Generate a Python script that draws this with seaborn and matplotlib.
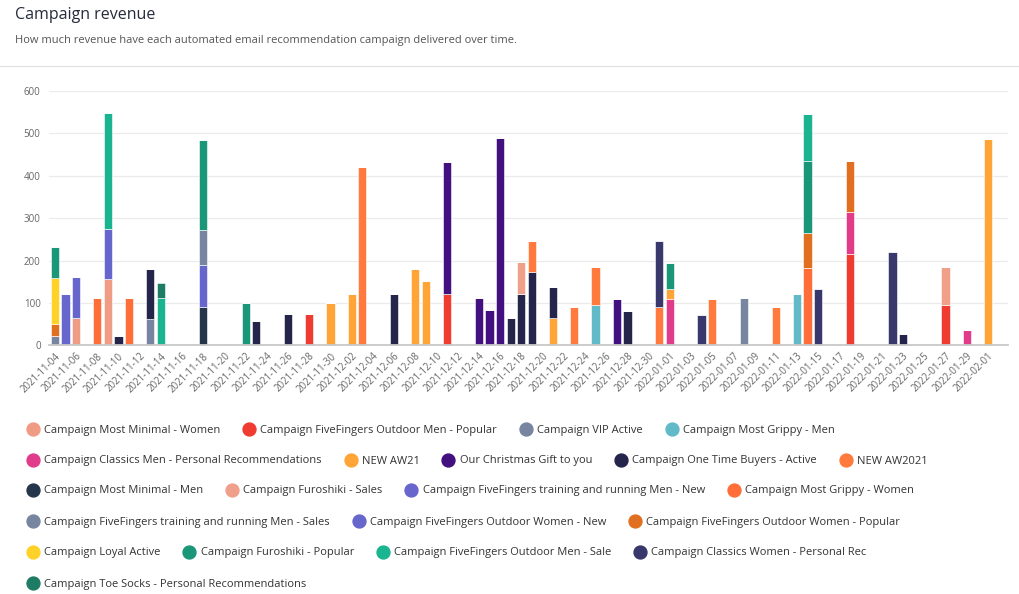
import pandas as pd
import numpy as np
import matplotlib
matplotlib.use("Agg")
import matplotlib.pyplot as plt
from matplotlib.lines import Line2D
import seaborn as sns

# DATES ON THE X AXIS (2022-01-31 is not in the data)
dates = [d.strftime("%Y-%m-%d") for d in pd.date_range("2021-11-04", "2022-02-01") if d.strftime("%Y-%m-%d") != "2022-01-31"]

# CAMPAIGNS (legend order == stack order, bottom first)
campaigns = [
    "Campaign Most Minimal - Women",
    "Campaign FiveFingers Outdoor Men - Popular",
    "Campaign VIP Active",
    "Campaign Most Grippy - Men",
    "Campaign Classics Men - Personal Recommendations",
    "NEW AW21",
    "Our Christmas Gift to you",
    "Campaign One Time Buyers - Active",
    "NEW AW2021",
    "Campaign Most Minimal - Men",
    "Campaign Furoshiki - Sales",
    "Campaign FiveFingers training and running Men - New",
    "Campaign Most Grippy - Women",
    "Campaign FiveFingers training and running Men - Sales",
    "Campaign FiveFingers Outdoor Women - New",
    "Campaign FiveFingers Outdoor Women - Popular",
    "Campaign Loyal Active",
    "Campaign Furoshiki - Popular",
    "Campaign FiveFingers Outdoor Men - Sale",
    "Campaign Classics Women - Personal Rec",
    "Campaign Toe Socks - Personal Recommendations",
]
colors = [
    "#f09c84", "#f03b30", "#7785a0", "#62bac9", "#e03c8a", "#ffa538", "#42107f",
    "#25254b", "#ff7a3c", "#25364a", "#f0a08a", "#6666cc", "#ff6d38", "#7785a0",
    "#6666cc", "#e07020", "#ffd22a", "#1a9678", "#1ab590", "#38386c", "#1e7c64",
]

# REVENUE PER CAMPAIGN (date, value)
most_minimal_women = [("2021-11-06", 64), ("2021-11-09", 156)]
ff_outdoor_men_popular = [("2021-11-28", 75), ("2021-12-11", 121), ("2022-01-18", 216), ("2022-01-27", 94)]
vip_active = [("2021-11-04", 21), ("2021-11-13", 62), ("2022-01-08", 112)]
most_grippy_men = [("2021-12-25", 94), ("2022-01-13", 121)]
classics_men = [("2022-01-01", 110), ("2022-01-18", 99), ("2022-01-29", 36)]
new_aw21 = [("2021-11-30", 100), ("2021-12-02", 121), ("2021-12-08", 180), ("2021-12-09", 152),
            ("2021-12-21", 64), ("2022-01-01", 24), ("2022-02-01", 486)]
christmas_gift = [("2021-12-11", 311), ("2021-12-14", 112), ("2021-12-15", 83), ("2021-12-16", 490), ("2021-12-27", 110)]
one_time_buyers = [("2021-11-10", 21), ("2021-11-13", 118), ("2021-11-23", 57), ("2021-11-26", 75),
                   ("2021-12-06", 121), ("2021-12-17", 64), ("2021-12-18", 121), ("2021-12-19", 174),
                   ("2021-12-21", 74), ("2021-12-28", 82), ("2022-01-23", 27)]
new_aw2021 = [("2021-12-03", 421), ("2021-12-19", 71), ("2021-12-23", 91), ("2021-12-25", 91),
              ("2021-12-31", 91), ("2022-01-05", 110), ("2022-01-11", 91)]
most_minimal_men = [("2021-11-18", 90)]
furoshiki_sales = [("2021-12-18", 76), ("2022-01-27", 91)]
ff_training_men_new = [("2021-11-05", 121), ("2021-11-09", 118), ("2021-11-18", 100)]
most_grippy_women = [("2021-11-08", 111), ("2021-11-11", 112), ("2022-01-14", 182)]
ff_training_men_sales = [("2021-11-18", 83)]
ff_outdoor_women_new = [("2021-11-06", 97)]
ff_outdoor_women_popular = [("2021-11-04", 30), ("2022-01-14", 82), ("2022-01-18", 121)]
loyal_active = [("2021-11-04", 108)]
furoshiki_popular = [("2021-11-04", 73), ("2021-11-18", 211), ("2021-11-22", 100), ("2022-01-01", 61), ("2022-01-14", 172)]
ff_outdoor_men_sale = [("2021-11-09", 273), ("2021-11-14", 112), ("2022-01-14", 110)]
classics_women = [("2021-12-31", 154), ("2022-01-04", 72), ("2022-01-15", 132), ("2022-01-22", 221)]
toe_socks = [("2021-11-14", 36)]

series = [most_minimal_women, ff_outdoor_men_popular, vip_active, most_grippy_men, classics_men,
          new_aw21, christmas_gift, one_time_buyers, new_aw2021, most_minimal_men, furoshiki_sales,
          ff_training_men_new, most_grippy_women, ff_training_men_sales, ff_outdoor_women_new,
          ff_outdoor_women_popular, loyal_active, furoshiki_popular, ff_outdoor_men_sale,
          classics_women, toe_socks]

rows = []
for name, pts in zip(campaigns, series):
    for d, v in pts:
        rows.append({"campaign": name, "pos": dates.index(d), "revenue": v})
df = pd.DataFrame(rows)
palette = dict(zip(campaigns, colors))

# FIGURE
sns.set_style("white")
plt.rcParams["font.family"] = ["Open Sans", "DejaVu Sans"]
fig = plt.figure(figsize=(10.2, 5.94), dpi=100)
ax = fig.add_axes([49 / 1020, 1 - 345.3 / 594, (1008 - 49) / 1020, (345.3 - 91) / 594])

# histplot stacks first hue level on top -> reverse order
sns.histplot(data=df, x="pos", weights="revenue", hue="campaign", hue_order=campaigns[::-1],
             palette=palette, multiple="stack", discrete=True, shrink=0.78, alpha=1,
             edgecolor="white", linewidth=0.4, legend=False, ax=ax, zorder=3)

ax.set_xlim(-0.55, 89.9)
ax.set_ylim(0, 600)
ax.set_yticks([0, 100, 200, 300, 400, 500, 600])
ax.set_xticks(range(0, len(dates), 2))
ax.set_xticklabels(dates[::2], rotation=45, ha="right", rotation_mode="anchor")
ax.tick_params(axis="both", length=0, labelsize=7, labelcolor="#666666")
ax.tick_params(axis="y", pad=6)
ax.tick_params(axis="x", pad=4)
ax.set_xlabel("")
ax.set_ylabel("")
ax.grid(axis="y", color="#ebebeb", linewidth=0.9, zorder=0)
for s in ["top", "right", "left"]:
    ax.spines[s].set_visible(False)
ax.spines["bottom"].set_color("#c8c8c8")
ax.spines["bottom"].set_linewidth(1.3)
ax.spines["bottom"].set_zorder(4)

# HEADER
fig.text(15 / 1020, 1 - 15 / 594, "Campaign revenue", fontsize=11.5, color="#262a3a", va="center")
fig.text(15 / 1020, 1 - 40 / 594, "How much revenue have each automated email recommendation campaign delivered over time.",
         fontsize=8.05, color="#555555", va="center")
fig.add_artist(Line2D([0, 1], [1 - 66 / 594, 1 - 66 / 594], color="#e3e3e3", linewidth=0.9))

# LEGEND, flowing rows like the reference
legend_rows = [[0, 1, 2, 3], [4, 5, 6, 7, 8], [9, 10, 11, 12], [13, 14, 15], [16, 17, 18, 19], [20]]
row_y = [430, 461, 491, 522, 553, 584]
for idx, y in zip(legend_rows, row_y):
    handles = [Line2D([], [], marker="o", linestyle="", markersize=9.3,
                      markerfacecolor=colors[i], markeredgecolor=colors[i]) for i in idx]
    labels = [campaigns[i] for i in idx]
    fig.legend(handles, labels, loc="center left", bbox_to_anchor=(27.5 / 1020, 1 - y / 594),
               ncol=len(idx), frameon=False, fontsize=8.0, handlelength=1.0, handletextpad=0.5,
               columnspacing=2.1, borderpad=0, borderaxespad=0, labelcolor="#333333")

plt.savefig("out.png", dpi=100)
